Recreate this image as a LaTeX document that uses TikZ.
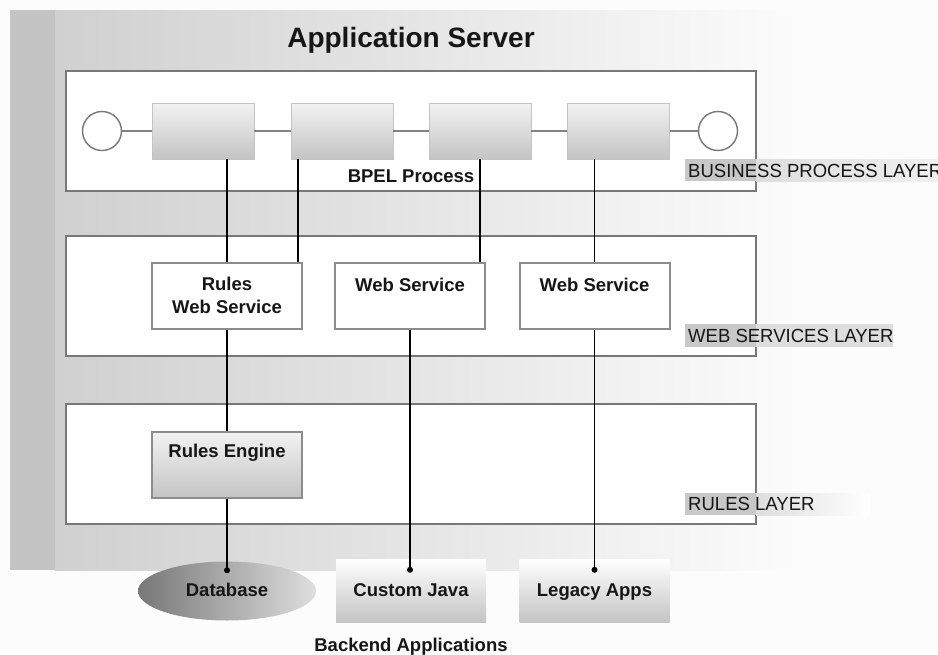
\documentclass[tikz,border=0pt]{standalone}
\usepackage{fontspec}
\setmainfont{Liberation Sans}
\newfontfamily\lyrfont[FakeStretch=0.975]{Liberation Sans}
\usetikzlibrary{shapes.geometric}
\definecolor{txt}{RGB}{22,22,22}
\definecolor{bgstrip}{RGB}{196,196,196}
\definecolor{bgleft}{RGB}{208,208,208}
\definecolor{bgright}{RGB}{252,252,252}
\definecolor{layeredge}{RGB}{120,120,120}
\definecolor{boxedge}{RGB}{140,140,140}
\definecolor{flowgray}{RGB}{130,130,130}
\definecolor{gtop}{RGB}{242,242,242}
\definecolor{gbot}{RGB}{196,196,196}
\definecolor{hidark}{RGB}{200,200,200}
\definecolor{hilight}{RGB}{222,222,222}
\definecolor{hipale}{RGB}{240,240,240}
\definecolor{dbleft}{RGB}{120,120,120}
\definecolor{dbright}{RGB}{222,222,222}
\begin{document}
\begin{tikzpicture}[x=1pt,y=-1pt,
  layerbox/.style={draw=layeredge, fill=white, line width=1.4pt, minimum width=690pt, minimum height=120pt, inner sep=0pt},
  procbox/.style={top color=gtop, bottom color=gbot, draw=gbot, line width=0.6pt, minimum width=102pt, minimum height=56pt, inner sep=0pt},
  endcircle/.style={circle, draw=layeredge, fill=white, line width=1.4pt, minimum size=39pt, inner sep=0pt},
  wsbox/.style={draw=boxedge, fill=white, line width=2pt, minimum width=150pt, minimum height=66pt, inner sep=0pt},
  enginebox/.style={top color=gtop, bottom color=gbot, draw=boxedge, line width=2pt, minimum width=150pt, minimum height=66pt, inner sep=0pt},
  appbox/.style={top color=white, bottom color=gbot, minimum width=150pt, minimum height=63pt, inner sep=0pt},
  dbshape/.style={ellipse, left color=dbleft, right color=dbright, minimum width=178pt, minimum height=59pt, inner sep=0pt},
  flowline/.style={draw=flowgray, line width=2.5pt},
  conn/.style={draw=black, line width=1.5pt},
  dotmark/.style={circle, fill=black, minimum size=6pt, inner sep=0pt},
  lbl/.style={font=\fontsize{18.5}{22}\selectfont\bfseries, text=txt, inner sep=0pt, anchor=base},
  lyr/.style={font=\lyrfont\fontsize{19}{22}\selectfont, text=txt, inner sep=0pt, anchor=base west}
]
\useasboundingbox (0,0) rectangle (938,654);
\fill[white!99!black] (0,0) rectangle (938,654);
% background of the application server
\shade[left color=bgleft, right color=bgright] (55,10) rectangle (800,570);
\fill[bgstrip] (10,10) rectangle (55,570);

\node[font=\fontsize{28}{32}\selectfont\bfseries, text=txt, inner sep=0pt, anchor=base] (title) at (411,47) {Application Server};

% layers
\node[layerbox] (lbp) at (411,131) {};
\node[layerbox] (lws) at (411,296) {};
\node[layerbox] (lrl) at (411,464) {};

% layer labels with highlight
\fill[hidark] (685,159) rectangle (756,181);
\shade[left color=hilight, right color=hipale] (756,159) rectangle (938,181);
\fill[hidark] (685,324) rectangle (756,347);
\fill[hilight] (756,324) rectangle (893,347);
\fill[hidark] (685,493) rectangle (756,515);
\shade[left color=hilight, right color=white] (756,493) rectangle (870,515);
\node[lyr] (lbpt) at (688,177) {BUSINESS PROCESS LAYER};
\node[lyr] (lwst) at (688,342) {WEB SERVICES LAYER};
\node[lyr] (lrlt) at (688,510) {RULES LAYER};

% business process
\node[endcircle] (cl) at (102,131) {};
\node[endcircle] (cr) at (718,131) {};
\node[procbox] (b1) at (203,131) {};
\node[procbox] (b2) at (342,131) {};
\node[procbox] (b3) at (480,131) {};
\node[procbox] (b4) at (618.5,131) {};
\draw[flowline] (cl) -- (b1) -- (b2) -- (b3) -- (b4) -- (cr);
\node[lbl] (bpel) at (411,182) {BPEL Process};

% web services
\node[wsbox] (rws) at (227,296) {};
\node[wsbox] (ws2) at (410,296) {};
\node[wsbox] (ws3) at (594.5,296) {};
\node[lbl] (rwst1) at (227,290) {Rules};
\node[lbl] (rwst2) at (227,313) {Web Service};
\node[lbl] (ws2t) at (410,291) {Web Service};
\node[lbl] (ws3t) at (594.5,291) {Web Service};

% rules engine
\node[enginebox] (re) at (227,465) {};
\node[lbl] (ret) at (227,457) {Rules Engine};

% backend applications
\node[dbshape] (db) at (227,591) {};
\node[appbox] (cj) at (411,590.5) {};
\node[appbox] (la) at (594.5,590.5) {};
\node[lbl] (dbt) at (227,596) {Database};
\node[lbl] (cjt) at (411,596) {Custom Java};
\node[lbl] (lat) at (594.5,596) {Legacy Apps};
\node[lbl] (backt) at (411,651) {Backend Applications};

% connectors
\coordinate (rwsr) at ([xshift=-5pt]rws.north east);
\draw[conn] (b1.south -| rws.north) -- (rws.north);
\draw[conn] (b2.south -| rwsr) -- (rwsr);
\draw[conn] (b3.south) -- (b3.south |- ws2.north);
\draw[conn] (b4.south -| ws3.north) -- (ws3.north);
\draw[conn] (rws.south) -- (re.north);
\coordinate (dbdot) at ([yshift=-9pt]db.north);
\coordinate (cjdot) at ([yshift=-11pt]cj.north -| ws2.south);
\coordinate (ladot) at ([yshift=-11pt]la.north -| ws3.south);
\draw[conn] (re.south) -- (dbdot);
\draw[conn] (ws2.south) -- (cjdot);
\draw[conn] (ws3.south) -- (ladot);
\node[dotmark] (d1) at (dbdot) {};
\node[dotmark] (d2) at (cjdot) {};
\node[dotmark] (d3) at (ladot) {};
\end{tikzpicture}
\end{document}
